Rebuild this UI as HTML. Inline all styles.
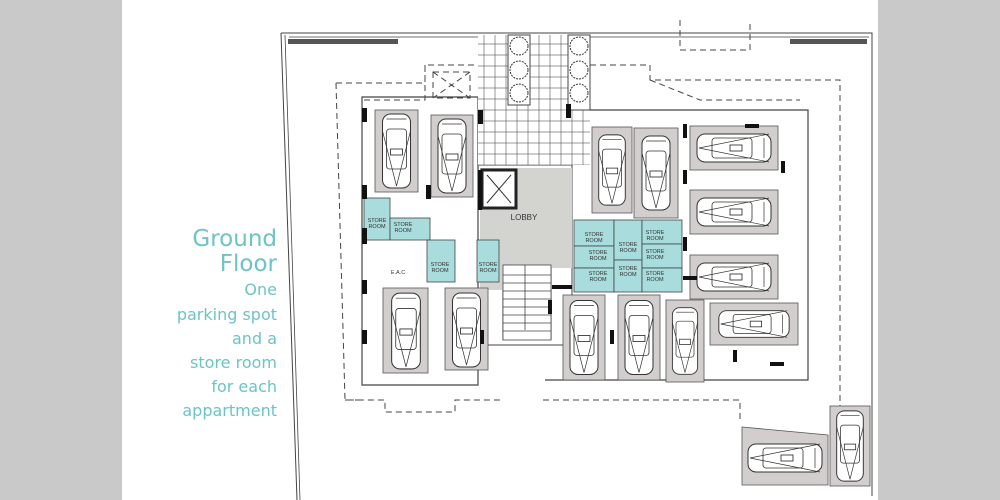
<!DOCTYPE html>
<html><head><meta charset="utf-8"><style>
html,body{margin:0;padding:0;background:#fff;width:1000px;height:500px;overflow:hidden}
.t{position:absolute;right:723px;text-align:right;color:#6cc4c5;font-family:"DejaVu Sans","Liberation Sans",sans-serif;white-space:nowrap}
</style></head><body>
<div style="position:absolute;left:0;top:0;width:122px;height:500px;background:#c9c9c9"></div>
<div style="position:absolute;left:878px;top:0;width:122px;height:500px;background:#c9c9c9"></div>
<svg style="position:absolute;left:0;top:0" width="1000" height="500" viewBox="0 0 1000 500">
<defs>
<symbol id="car" viewBox="0 0 40 80">
<rect x="6" y="3" width="28" height="74" rx="8" fill="#fff" stroke="#333" stroke-width="1"/>
<rect x="10" y="18" width="20" height="40" rx="3" fill="none" stroke="#333" stroke-width="0.8"/>
<path d="M6 20 L20 75 L34 20 M10 8 H30" fill="none" stroke="#333" stroke-width="0.7"/>
<rect x="14" y="38" width="12" height="6" fill="#fff" stroke="#222" stroke-width="0.8"/>
</symbol>
<symbol id="carh" viewBox="0 0 80 40">
<rect x="3" y="6" width="74" height="28" rx="8" fill="#fff" stroke="#333" stroke-width="1"/>
<rect x="18" y="10" width="40" height="20" rx="3" fill="none" stroke="#333" stroke-width="0.8"/>
<path d="M5 20 L75 6 M5 20 L75 34 M70 10 V30" fill="none" stroke="#333" stroke-width="0.7"/>
<rect x="36" y="17" width="12" height="6" fill="#fff" stroke="#222" stroke-width="0.8"/>
</symbol>
<pattern id="tile" width="11" height="11" patternUnits="userSpaceOnUse"><rect width="11" height="11" fill="#fff" stroke="#555" stroke-width="0.6"/></pattern>
</defs>
<g fill="none" stroke="#444">
<path d="M281 33 L872 33 L872 496 M281 33 L297 500" stroke-width="1"/>
<path d="M285 35 L300 500 M289 37 H869" stroke-width="0.8"/>
<rect x="288" y="39" width="110" height="5" fill="#555" stroke="none"/>
<rect x="790" y="39" width="77" height="5" fill="#555" stroke="none"/>
<g stroke-dasharray="6 4" stroke-width="1">
<path d="M336 83 H425 V65 H590 M336 83 L345 400 H385 V412 H455 V400 H503 M425 65 V100 H360 M590 65 H650 V80 H840 V460 M650 80 L700 100 H800 M543 400 H740 V420 M345 400 L362 400 M590 65 L650 65"/>
<path d="M433 72 V98 H470 V72 Z M433 72 L470 98 M470 72 L433 98"/>
<path d="M680 20 V50 H750 V20"/>
</g>
<path d="M362 97 H478 V385 H362 Z" stroke-width="1.2"/>
<path d="M560 110 H808 V380 H545" stroke-width="1.2"/>
<path d="M478 165 H572 V345 H478" stroke-width="1"/>
</g>
<rect x="478" y="35" width="112" height="130" fill="url(#tile)"/>
<rect x="508" y="35" width="22" height="70" fill="#fff" stroke="#444"/>
<rect x="568" y="35" width="22" height="75" fill="#fff" stroke="#444"/>
<g fill="#fff" stroke="#333" stroke-dasharray="2 1">
<circle cx="519" cy="46" r="9"/><circle cx="519" cy="70" r="9"/><circle cx="519" cy="93" r="9"/>
<circle cx="579" cy="46" r="9"/><circle cx="579" cy="70" r="9"/><circle cx="579" cy="93" r="9"/>
</g>
<rect x="480" y="168" width="92" height="100" fill="#d3d3cf"/>
<rect x="480" y="230" width="22" height="60" fill="#d3d3cf"/>
<rect x="502" y="260" width="50" height="80" fill="#d3d3cf"/>
<rect x="482" y="170" width="34" height="38" fill="#fff" stroke="#222" stroke-width="3"/>
<path d="M487 175 L511 203 M511 175 L487 203" stroke="#333"/>
<g stroke="#444" stroke-width="0.8"><rect x="503" y="265" width="48" height="75" fill="#fff"/>
<path d="M503 275H551M503 283H551M503 291H551M503 299H551M503 307H551M503 315H551M503 323H551M503 331H551M525 265V330"/></g>
<text x="524" y="220" font-family="Liberation Sans,sans-serif" font-size="8" text-anchor="middle" fill="#333">LOBBY</text>
<g fill="#a9dcdc" stroke="#444" stroke-width="0.8">
<rect x="364" y="198" width="26" height="42"/><rect x="390" y="218" width="40" height="22"/>
<rect x="427" y="240" width="28" height="42"/><rect x="477" y="240" width="22" height="42"/>
<rect x="574" y="220" width="40" height="26"/><rect x="574" y="246" width="40" height="22"/><rect x="574" y="268" width="40" height="24"/>
<rect x="614" y="220" width="28" height="40"/><rect x="614" y="260" width="28" height="32"/>
<rect x="642" y="220" width="40" height="24"/><rect x="642" y="244" width="40" height="24"/><rect x="642" y="268" width="40" height="24"/>
</g>
<g font-family="Liberation Sans,sans-serif" font-size="5.5" fill="#333" text-anchor="middle">
<text x="377" y="222">STORE</text><text x="377" y="228">ROOM</text>
<text x="403" y="226">STORE</text><text x="403" y="232">ROOM</text>
<text x="440" y="266">STORE</text><text x="440" y="272">ROOM</text>
<text x="488" y="266">STORE</text><text x="488" y="272">ROOM</text>
<text x="594" y="236">STORE</text><text x="594" y="242">ROOM</text>
<text x="598" y="254">STORE</text><text x="598" y="260">ROOM</text>
<text x="598" y="275">STORE</text><text x="598" y="281">ROOM</text>
<text x="628" y="246">STORE</text><text x="628" y="252">ROOM</text>
<text x="628" y="270">STORE</text><text x="628" y="276">ROOM</text>
<text x="655" y="234">STORE</text><text x="655" y="240">ROOM</text>
<text x="655" y="253">STORE</text><text x="655" y="259">ROOM</text>
<text x="655" y="275">STORE</text><text x="655" y="281">ROOM</text>
<text x="398" y="274">E.A.C</text>
</g>
<g fill="#d2cece" stroke="#555" stroke-width="0.8">
<rect x="375" y="110" width="43" height="82"/><rect x="431" y="115" width="42" height="82"/>
<rect x="383" y="288" width="45" height="85"/><rect x="445" y="288" width="43" height="82"/>
<rect x="592" y="127" width="40" height="86"/><rect x="634" y="128" width="44" height="90"/>
<rect x="563" y="295" width="42" height="85"/><rect x="618" y="295" width="42" height="85"/><rect x="666" y="300" width="38" height="82"/>
<rect x="690" y="126" width="88" height="44"/><rect x="690" y="190" width="88" height="44"/>
<rect x="690" y="255" width="88" height="44"/><rect x="710" y="303" width="88" height="42"/>
<polygon points="742,427 828,435 828,485 742,485"/><rect x="830" y="406" width="40" height="80"/>
</g>
<use href="#car" x="376" y="111" width="41" height="80"/><use href="#car" x="432" y="116" width="40" height="80"/>
<use href="#car" x="385" y="290" width="42" height="82"/><use href="#car" x="446" y="290" width="41" height="80"/>
<use href="#car" x="593" y="128" width="38" height="84"/><use href="#car" x="636" y="130" width="40" height="86"/>
<use href="#car" x="564" y="296" width="40" height="83"/><use href="#car" x="619" y="296" width="40" height="83"/><use href="#car" x="667" y="301" width="36" height="80"/>
<use href="#car" x="831" y="407" width="38" height="78"/>
<use href="#carh" x="692" y="128" width="84" height="40"/><use href="#carh" x="692" y="192" width="84" height="40"/>
<use href="#carh" x="692" y="257" width="84" height="40"/><use href="#carh" x="712" y="305" width="84" height="38"/>
<use href="#carh" x="745" y="438" width="80" height="40"/>
<g fill="#111">
<rect x="362" y="108" width="5" height="14"/><rect x="362" y="185" width="5" height="14"/><rect x="362" y="228" width="5" height="16"/>
<rect x="362" y="280" width="5" height="14"/><rect x="362" y="330" width="5" height="14"/><rect x="426" y="185" width="5" height="14"/>
<rect x="478" y="110" width="5" height="14"/><rect x="478" y="170" width="4" height="40"/><rect x="566" y="104" width="5" height="14"/>
<rect x="683" y="124" width="4" height="14"/><rect x="683" y="170" width="4" height="14"/><rect x="683" y="237" width="4" height="14"/>
<rect x="683" y="276" width="14" height="4"/><rect x="548" y="300" width="4" height="14"/><rect x="610" y="330" width="4" height="14"/>
<rect x="781" y="161" width="4" height="12"/><rect x="770" y="362" width="14" height="4"/><rect x="733" y="350" width="4" height="12"/>
<rect x="745" y="124" width="14" height="4"/><rect x="552" y="285" width="20" height="4"/><rect x="480" y="330" width="4" height="14"/>
</g>
</svg>
<div class="t" style="top:226px;font-size:23px">Ground</div>
<div class="t" style="top:251px;font-size:23px">Floor</div>
<div class="t" style="top:280px;font-size:16px">One</div>
<div class="t" style="top:305px;font-size:16px">parking spot</div>
<div class="t" style="top:329px;font-size:16px">and a</div>
<div class="t" style="top:353px;font-size:16px">store room</div>
<div class="t" style="top:377px;font-size:16px">for each</div>
<div class="t" style="top:401px;font-size:16px">appartment</div>
</body></html>
